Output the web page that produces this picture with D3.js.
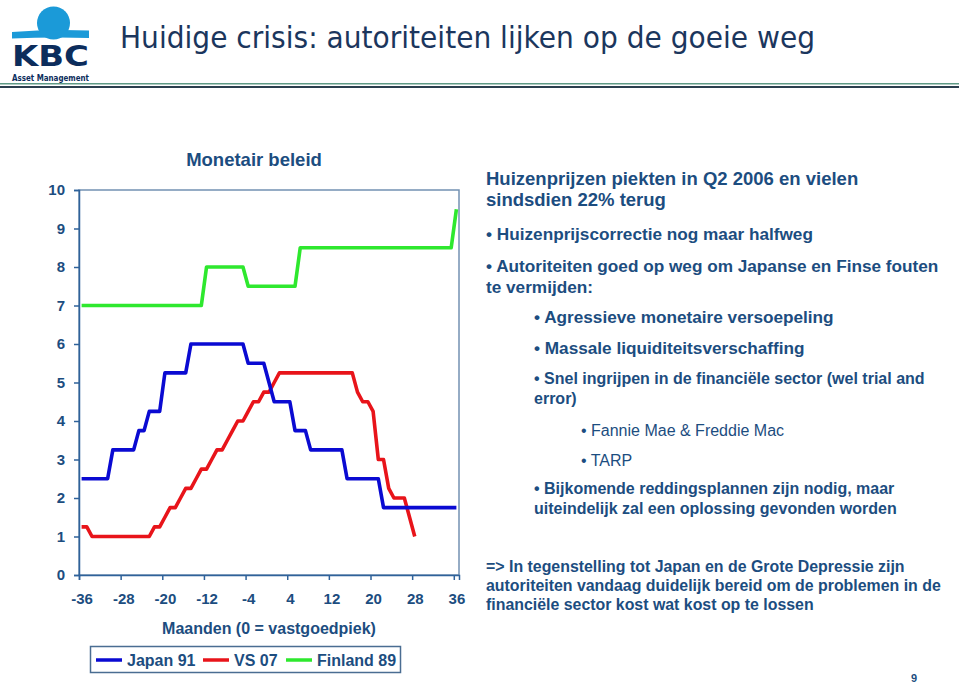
<!DOCTYPE html>
<meta charset="utf-8">
<title>Huidige crisis</title>
<style>
  body { margin: 0; background: #fff; }
  svg text { font-family: "Liberation Sans", Arial, sans-serif; }
</style>
<body>
<div id="slide"></div>
</body>
<script src="https://d3js.org/d3.v7.min.js"></script>
<script>

// data: monetary policy rate per month around the house price peak

var months = d3.range(-36, 37);
var xTickLabels = [-36, -28, -20, -12, -4, 4, 12, 20, 28, 36];
var yTickLabels = [0, 1, 2, 3, 4, 5, 6, 7, 8, 9, 10];

var japan91 = [
  2.5, 2.5, 2.5, 2.5, 2.5, 2.5,
  3.25, 3.25, 3.25, 3.25, 3.25,
  3.75, 3.75,
  4.25, 4.25, 4.25,
  5.25, 5.25, 5.25, 5.25, 5.25,
  6, 6, 6, 6, 6, 6, 6, 6, 6, 6, 6,
  5.5, 5.5, 5.5, 5.5,
  5.0,
  4.5, 4.5, 4.5, 4.5,
  3.75, 3.75, 3.75,
  3.25, 3.25, 3.25, 3.25, 3.25, 3.25, 3.25,
  2.5, 2.5, 2.5, 2.5, 2.5, 2.5, 2.5,
  1.75, 1.75, 1.75, 1.75, 1.75, 1.75, 1.75, 1.75, 1.75, 1.75, 1.75, 1.75, 1.75, 1.75, 1.75
];

// VS 07 only runs until month 28
var vs07 = [
  1.25, 1.25,
  1, 1, 1, 1, 1, 1, 1, 1, 1, 1, 1, 1,
  1.25, 1.25, 1.5, 1.75, 1.75, 2.0, 2.25, 2.25, 2.5, 2.75, 2.75, 3.0,
  3.25, 3.25, 3.5, 3.75, 4.0, 4.0, 4.25, 4.5, 4.5, 4.75, 4.75, 5.0,
  5.25, 5.25, 5.25, 5.25, 5.25, 5.25, 5.25, 5.25, 5.25, 5.25, 5.25, 5.25, 5.25, 5.25, 5.25,
  4.75, 4.5, 4.5, 4.25, 3.0, 3.0, 2.25, 2.0, 2.0, 2.0, 1.5, 1.0
];

var finland89 = [
  7, 7, 7, 7, 7, 7, 7, 7, 7, 7, 7, 7, 7, 7, 7, 7, 7, 7, 7, 7, 7, 7, 7, 7,
  8, 8, 8, 8, 8, 8, 8, 8,
  7.5, 7.5, 7.5, 7.5, 7.5, 7.5, 7.5, 7.5, 7.5, 7.5,
  8.5, 8.5, 8.5, 8.5, 8.5, 8.5, 8.5, 8.5, 8.5, 8.5, 8.5, 8.5, 8.5, 8.5, 8.5,
  8.5, 8.5, 8.5, 8.5, 8.5, 8.5, 8.5, 8.5, 8.5, 8.5, 8.5, 8.5, 8.5, 8.5, 8.5,
  9.5
];

var seriesNames = ["Japan 91", "VS 07", "Finland 89"];
var seriesColors = ["#0a0ad2", "#e8141a", "#2ee82e"];

var series = [japan91, vs07, finland89].map(function(vals, i) {
  return {
    name: seriesNames[i],
    color: seriesColors[i],
    values: vals.map(function(v, j) { return {m: months[j], v: v}; })
  };
});

var textBlue = "#1c4d80";
var navy = "#1b365d";

var svg = d3.select("#slide").append("svg")
    .attr("width", 959)
    .attr("height", 686);

// header: logo, title and rule

var logo = svg.append("g");

logo.append("circle")
  .attr("cx", 53.5)
  .attr("cy", 23)
  .attr("r", 16.5)
  .attr("fill", "#1b9ad8");

logo.append("path")
  .attr("d", "M12,32 Q50,29 89,30.5 L89,38 Q50,37 12,38.5 Z")
  .attr("fill", "#1b9ad8");

logo.append("text")
  .attr("x", 12)
  .attr("y", 66)
  .attr("textLength", 77)
  .attr("lengthAdjust", "spacingAndGlyphs")
  .style("font-family", "'DejaVu Sans', sans-serif")
  .style("font-weight", "bold")
  .style("font-size", "29px")
  .attr("fill", "#0c2d5c")
  .text("KBC");

logo.append("text")
  .attr("x", 12)
  .attr("y", 80.5)
  .attr("textLength", 77)
  .attr("lengthAdjust", "spacingAndGlyphs")
  .style("font-family", "'DejaVu Sans Condensed', 'DejaVu Sans', sans-serif")
  .style("font-weight", "bold")
  .style("font-size", "8.5px")
  .attr("fill", "#0c2d5c")
  .text("Asset Management");

svg.append("text")
  .attr("x", 120)
  .attr("y", 48)
  .attr("textLength", 695)
  .attr("lengthAdjust", "spacingAndGlyphs")
  .style("font-family", "'DejaVu Sans', sans-serif")
  .style("font-size", "30px")
  .attr("fill", navy)
  .text("Huidige crisis: autoriteiten lijken op de goeie weg");

svg.append("rect")
  .attr("x", 0).attr("y", 83)
  .attr("width", 959).attr("height", 1.5)
  .attr("fill", "#5f9a86");

svg.append("rect")
  .attr("x", 0).attr("y", 86)
  .attr("width", 959).attr("height", 2)
  .attr("fill", "#2b3f4e");

// chart

var plot = {left: 79, top: 190, right: 459, bottom: 575};

var x = d3.scaleLinear()
  .domain([-36.5, 36.5])
  .range([plot.left, plot.right]);

var y = d3.scaleLinear()
  .domain([0, 10])
  .range([plot.bottom, plot.top]);

svg.append("text")
  .attr("x", 254)
  .attr("y", 166)
  .attr("text-anchor", "middle")
  .style("font-size", "18.5px")
  .style("font-weight", "bold")
  .attr("fill", textBlue)
  .text("Monetair beleid");

// frame round the plot area
svg.append("rect")
  .attr("x", plot.left)
  .attr("y", plot.top)
  .attr("width", plot.right - plot.left)
  .attr("height", plot.bottom - plot.top)
  .attr("fill", "none")
  .attr("stroke", "#7391b2")
  .attr("stroke-width", 1.5);

var yaxis = d3.axisLeft(y)
  .tickValues(yTickLabels)
  .tickSize(5)
  .tickPadding(9)
  .tickFormat(function(d) { return String(d); });

var gy = svg.append("g")
  .attr("transform", "translate(" + plot.left + ",0)")
  .call(yaxis);

// tick marks fall between the monthly categories
var xtickmarks = d3.axisBottom(x)
  .tickValues(xTickLabels.map(function(d) { return d - 0.5; }))
  .tickSize(5)
  .tickFormat("");

var xaxis = d3.axisBottom(x)
  .tickValues(xTickLabels)
  .tickSize(0)
  .tickPadding(18)
  .tickFormat(function(d) { return String(d); });

var gx = svg.append("g")
  .attr("transform", "translate(0," + plot.bottom + ")")
  .call(xtickmarks);

var gxl = svg.append("g")
  .attr("transform", "translate(0," + plot.bottom + ")")
  .call(xaxis);
gxl.select(".domain").remove();

[gy, gx, gxl].forEach(function(g) {
  g.selectAll(".domain, line")
    .attr("stroke", "#2f629a")
    .attr("stroke-width", 1.5);
  g.selectAll("text")
    .style("font-family", "'Liberation Sans', Arial, sans-serif")
    .style("font-size", "15px")
    .style("font-weight", "bold")
    .attr("fill", textBlue);
});

svg.append("text")
  .attr("x", 269)
  .attr("y", 634)
  .attr("text-anchor", "middle")
  .style("font-size", "16px")
  .style("font-weight", "bold")
  .attr("fill", textBlue)
  .text("Maanden (0 = vastgoedpiek)");

var line = d3.line()
  .x(function(d) { return x(d.m); })
  .y(function(d) { return y(d.v); });

// draw green first so blue and red sit on top
svg.selectAll("path.series")
  .data(series.slice().reverse())
  .enter()
  .append("path")
  .attr("class", "series")
  .attr("d", function(d) { return line(d.values); })
  .attr("fill", "none")
  .attr("stroke", function(d) { return d.color; })
  .attr("stroke-width", 3.6)
  .attr("stroke-linejoin", "round");

// legend

svg.append("rect")
  .attr("x", 90.5)
  .attr("y", 646.5)
  .attr("width", 310)
  .attr("height", 26)
  .attr("fill", "#fff")
  .attr("stroke", "#4a6d92")
  .attr("stroke-width", 1.5);

var legendX = [96, 203, 286];

var item = svg.selectAll("g.legend")
  .data(series)
  .enter()
  .append("g")
  .attr("class", "legend")
  .attr("transform", function(d, i) { return "translate(" + legendX[i] + ",660)"; });

item.append("line")
  .attr("x1", 0)
  .attr("x2", 26)
  .attr("stroke", function(d) { return d.color; })
  .attr("stroke-width", 3.5);

item.append("text")
  .attr("x", 31)
  .attr("dy", "0.36em")
  .style("font-size", "16px")
  .style("font-weight", "bold")
  .attr("fill", textBlue)
  .text(function(d) { return d.name; });

// right hand text

var notes = [
  {x: 486, y: 178, size: 18.5, bold: true, t: "Huizenprijzen piekten in Q2 2006 en vielen"},
  {x: 486, y: 199, size: 18.5, bold: true, t: "sindsdien 22% terug"},
  {x: 486, y: 234, size: 17.2, bold: true, t: "\u2022 Huizenprijscorrectie nog maar halfweg"},
  {x: 486, y: 266, size: 17.2, bold: true, t: "\u2022 Autoriteiten goed op weg om Japanse en Finse fouten"},
  {x: 486, y: 287, size: 17.2, bold: true, t: "te vermijden:"},
  {x: 534, y: 317, size: 17.2, bold: true, t: "\u2022 Agressieve monetaire versoepeling"},
  {x: 534, y: 348, size: 17.2, bold: true, t: "\u2022 Massale liquiditeitsverschaffing"},
  {x: 534, y: 378, size: 16, bold: true, t: "\u2022 Snel ingrijpen in de financi\u00eble sector (wel trial and"},
  {x: 534, y: 398, size: 16, bold: true, t: "error)"},
  {x: 581, y: 430, size: 16, bold: false, t: "\u2022 Fannie Mae & Freddie Mac"},
  {x: 581, y: 460, size: 16, bold: false, t: "\u2022 TARP"},
  {x: 534, y: 488, size: 16, bold: true, t: "\u2022 Bijkomende reddingsplannen zijn nodig, maar"},
  {x: 534, y: 508, size: 16, bold: true, t: "uiteindelijk zal een oplossing gevonden worden"},
  {x: 486, y: 566, size: 15.9, bold: true, t: "=> In tegenstelling tot Japan en de Grote Depressie zijn"},
  {x: 486, y: 585, size: 15.9, bold: true, t: "autoriteiten vandaag duidelijk bereid om de problemen in de"},
  {x: 486, y: 604, size: 15.9, bold: true, t: "financi\u00eble sector kost wat kost op te lossen"},
  {x: 911, y: 678, size: 11, bold: true, t: "9"}
];

svg.selectAll("text.note")
  .data(notes)
  .enter()
  .append("text")
  .attr("class", "note")
  .attr("x", function(d) { return d.x; })
  .attr("y", function(d) { return d.y; })
  .attr("dy", "0.36em")
  .style("font-size", function(d) { return d.size + "px"; })
  .style("font-weight", function(d) { return d.bold ? "bold" : "normal"; })
  .attr("fill", textBlue)
  .text(function(d) { return d.t; });

</script>
